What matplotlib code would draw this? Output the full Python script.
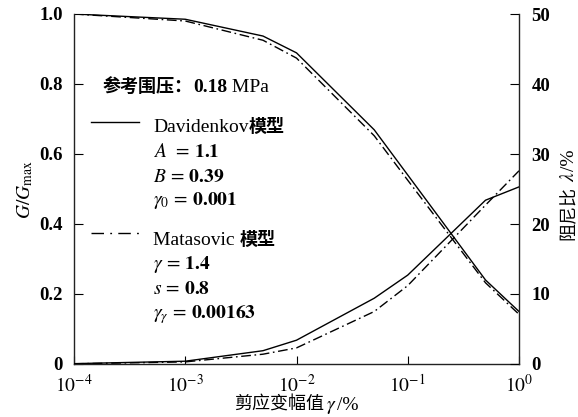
import matplotlib
matplotlib.use("Agg")
import matplotlib.pyplot as plt
from matplotlib import transforms
from matplotlib.lines import Line2D
from matplotlib.ticker import NullLocator

# ---- data -------------------------------------------------------------
strain = [1e-4, 1e-3, 5e-3, 1e-2, 5e-2, 1e-1, 5e-1, 1.0]          # shear strain amplitude, %
g_davidenkov = [1.0, 0.985, 0.937, 0.889, 0.669, 0.540, 0.240, 0.150]
g_matasovic = [1.0, 0.980, 0.925, 0.874, 0.652, 0.525, 0.232, 0.142]
d_davidenkov = [0.05, 0.4, 1.9, 3.4, 9.4, 12.7, 23.4, 25.3]       # damping ratio, %
d_matasovic = [0.03, 0.3, 1.4, 2.3, 7.5, 11.2, 22.7, 27.6]

x_ticks = [1e-4, 1e-3, 1e-2, 1e-1, 1.0]
x_ticklabels = [r"$10^{-4}$", r"$10^{-3}$", r"$10^{-2}$", r"$10^{-1}$", r"$10^{0}$"]
g_ticks = [0, 0.2, 0.4, 0.6, 0.8, 1.0]
g_ticklabels = ["0", "0.2", "0.4", "0.6", "0.8", "1.0"]
d_ticks = [0, 10, 20, 30, 40, 50]
d_ticklabels = ["0", "10", "20", "30", "40", "50"]

# ---- style ------------------------------------------------------------
SERIF = "Liberation Serif"
CJK = "Noto Sans CJK SC"
plt.rcParams["mathtext.fontset"] = "stix"
plt.rcParams["font.family"] = [SERIF, CJK]
LW = 1.0
DASHDOT = (0, (7, 2.6, 1.2, 2.6))
FS = 14
TICK_FS = 13.5

W, H = 578, 417
fig = plt.figure(figsize=(W / 100, H / 100), dpi=100)
L, R, T, B = 74, 519, 14, 364
ax = fig.add_axes([L / W, 1 - B / H, (R - L) / W, (B - T) / H])
ax2 = ax.twinx()


def ax_xy(px, py):
    """pixel position -> axes fraction"""
    return (px - L) / (R - L), (B - py) / (B - T)


ax.plot(strain, g_davidenkov, color="black", lw=LW, ls="-")
ax.plot(strain, g_matasovic, color="black", lw=LW, ls=DASHDOT)
ax2.plot(strain, d_davidenkov, color="black", lw=LW, ls="-")
ax2.plot(strain, d_matasovic, color="black", lw=LW, ls=DASHDOT)

ax.set_xscale("log")
ax.set_xlim(1e-4, 1.0)
ax.set_ylim(0, 1.0)
ax2.set_ylim(0, 50)

ax.set_xticks(x_ticks)
ax.set_xticklabels(x_ticklabels, fontsize=TICK_FS + 0.5)
ax.xaxis.set_minor_locator(NullLocator())
ax.set_yticks(g_ticks)
ax.set_yticklabels(g_ticklabels, fontsize=TICK_FS, fontweight="bold", family=SERIF)
ax2.set_yticks(d_ticks)
ax2.set_yticklabels(d_ticklabels, fontsize=TICK_FS, fontweight="bold", family=SERIF)

ax.tick_params(axis="x", direction="in", length=6, width=0.8, pad=7)
ax.tick_params(axis="y", direction="in", length=6.5, width=0.8, pad=8)
ax2.tick_params(axis="y", direction="in", length=6.5, width=0.8, pad=9)

for a in (ax, ax2):
    a.spines["top"].set_visible(False)
    for s in ("left", "right", "bottom"):
        a.spines[s].set_linewidth(1.0)
        a.spines[s].set_color("#222222")
ax.spines["right"].set_visible(False)
ax2.spines["left"].set_visible(False)
ax2.spines["bottom"].set_visible(False)

renderer = fig.canvas.get_renderer()


def rich_text(px, py, pieces, rotation=0, center=False):
    """Draw several differently styled pieces one after another on a shared baseline."""
    x, y = ax_xy(px, py)
    texts, sizes = [], []
    for s, kw in pieces:
        t = ax.text(x, y, s, transform=ax.transAxes, rotation=rotation,
                    rotation_mode="anchor", ha="left", va="baseline", **kw)
        ext = t.get_window_extent(renderer)
        sizes.append(ext.width if rotation == 0 else ext.height)
        texts.append(t)
    total = sum(sizes)
    pos = -total / 2 if center else 0.0
    for t, sz in zip(texts, sizes):
        if rotation == 0:
            t.set_transform(transforms.offset_copy(ax.transAxes, x=pos, y=0, units="dots"))
        else:
            t.set_transform(transforms.offset_copy(ax.transAxes, x=0, y=pos, units="dots"))
        pos += sz
    return texts


serif = dict(family=SERIF, fontsize=FS)
serif_b = dict(family=SERIF, fontsize=FS, fontweight="bold")
cjk_b = dict(family=CJK, fontsize=FS - 1, fontweight="bold")
cjk = dict(family=CJK, fontsize=FS - 1)
math = dict(fontsize=FS)

# reference confining pressure
rich_text(103, 92, [("参考围压：", cjk_b), ("0.18", serif_b), (" MPa", serif)])

# model annotations
x0, x1 = ax_xy(91, 0)[0], ax_xy(139, 0)[0]
yl = ax_xy(0, 122)[1]
ax.add_line(Line2D([x0, x1], [yl, yl], transform=ax.transAxes, color="black", lw=LW))
rich_text(153, 132, [("Davidenkov", serif), ("模型", cjk_b)])
rich_text(153, 157, [(r"$A\ \,=\, \mathbf{1.1}$", math)])
rich_text(153, 182, [(r"$B\,=\,\mathbf{0.39}$", math)])
rich_text(153, 205, [(r"$\gamma_0\,=\,\mathbf{0.001}$", math)])

yl = ax_xy(0, 233)[1]
ax.add_line(Line2D([x0, x1], [yl, yl], transform=ax.transAxes, color="black",
                   lw=LW, ls=(0, (9, 4.5, 1.3, 4.5))))
rich_text(153, 245, [("Matasovic ", serif), ("模型", cjk_b)])
rich_text(153, 269, [(r"$\gamma\,=\,\mathbf{1.4}$", math)])
rich_text(153, 294, [(r"$s\,=\,\mathbf{0.8}$", math)])
rich_text(153, 318, [(r"$\gamma_\gamma\,=\,\mathbf{0.00163}$", math)])

# axis titles
rich_text((L + R) / 2, 410, [("剪应变幅值", cjk), (r"$\,\gamma$", math), ("/%", serif)], center=True)
rich_text(574, 195, [("阻尼比", cjk), (r" $\lambda$", math), ("/%", serif)], rotation=90, center=True)
rich_text(30, 190, [(r"$G/G_{\rm max}$", math)], rotation=90, center=True)

fig.savefig("out.png", dpi=100)
